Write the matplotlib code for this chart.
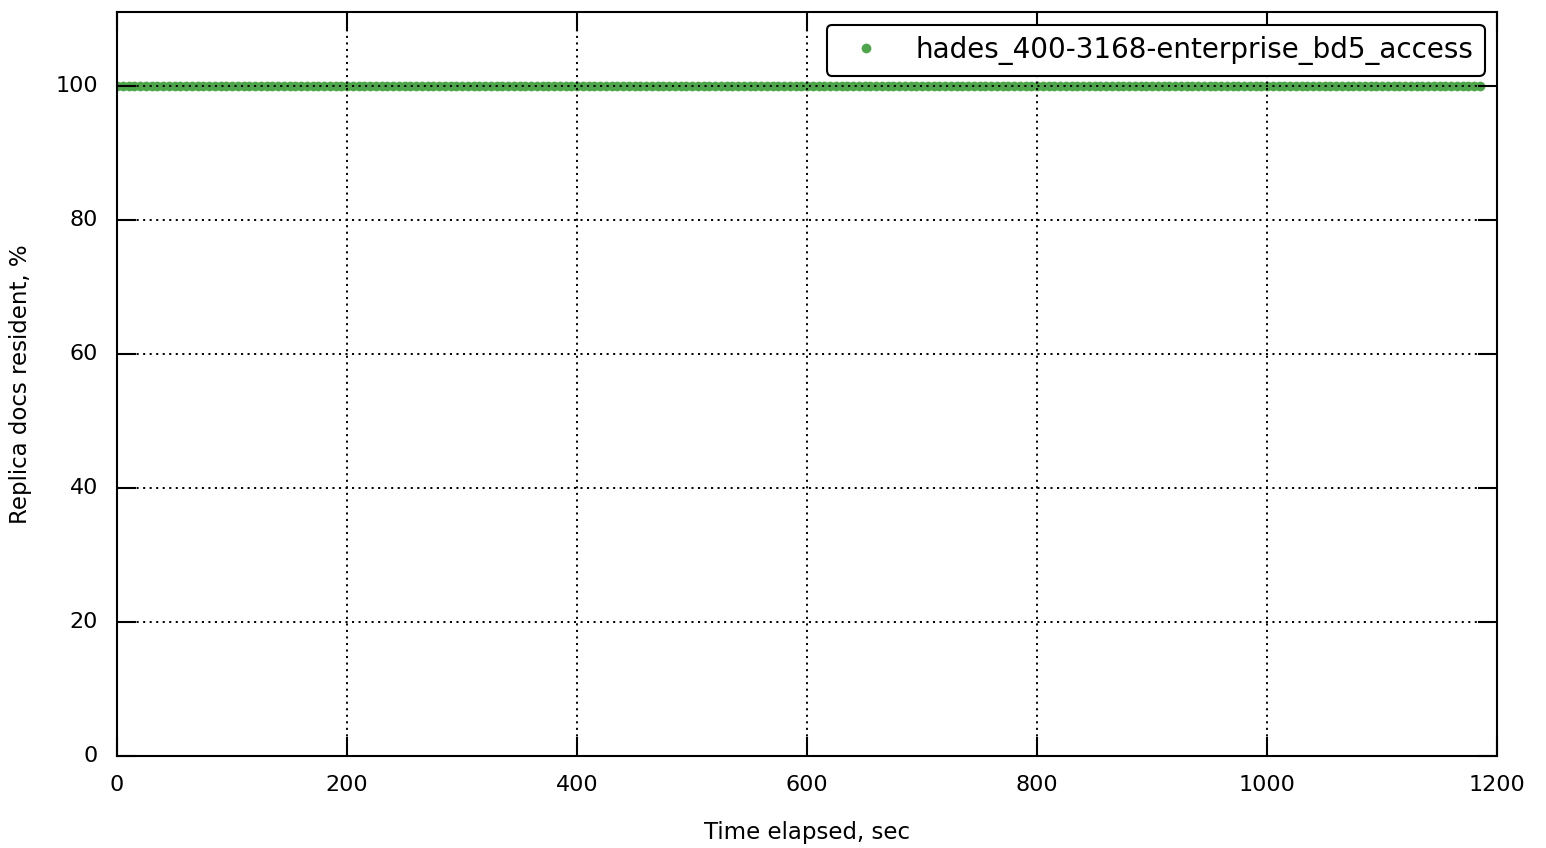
import matplotlib
matplotlib.use("Agg")
import matplotlib.pyplot as plt

label = "hades_400-3168-enterprise_bd5_access"
times = list(range(0, 1190, 5))
resident = [100.0] * len(times)
xticks = [0, 200, 400, 600, 800, 1000, 1200]
yticks = [0, 20, 40, 60, 80, 100]

plt.style.use("classic")
plt.rcParams["lines.scale_dashes"] = False
fig = plt.figure(figsize=(15.46, 8.48), dpi=100, facecolor="white")
ax = fig.add_axes([117/1546, 1-756/848, (1497-117)/1546, (756-12)/848])
ax.plot(times, resident, linestyle="none", marker="o", markersize=7,
        markeredgewidth=0, color="#4ea64a", label=label)
ax.set_xlim(0, 1200)
ax.set_ylim(0, 111)
ax.set_xticks(xticks)
ax.set_yticks(yticks)
ax.grid(True, color="black", linestyle=(0, (1.5, 3.2)), linewidth=1.4)
for s in ax.spines.values():
    s.set_linewidth(1.5)
ax.tick_params(which="major", labelsize=16, pad=13.5, length=14, width=1.5)
ax.set_xlabel("Time elapsed, sec", fontsize=16.5, labelpad=19)
ax.set_ylabel("Replica docs resident, %", fontsize=16.5, labelpad=17)
leg = ax.legend(loc="upper right", numpoints=1, fontsize=20, fancybox=True,
                borderaxespad=0.45, markerscale=1.0)
leg.get_frame().set_linewidth(1.5)
fig.savefig("out.png", dpi=100, facecolor="white")
